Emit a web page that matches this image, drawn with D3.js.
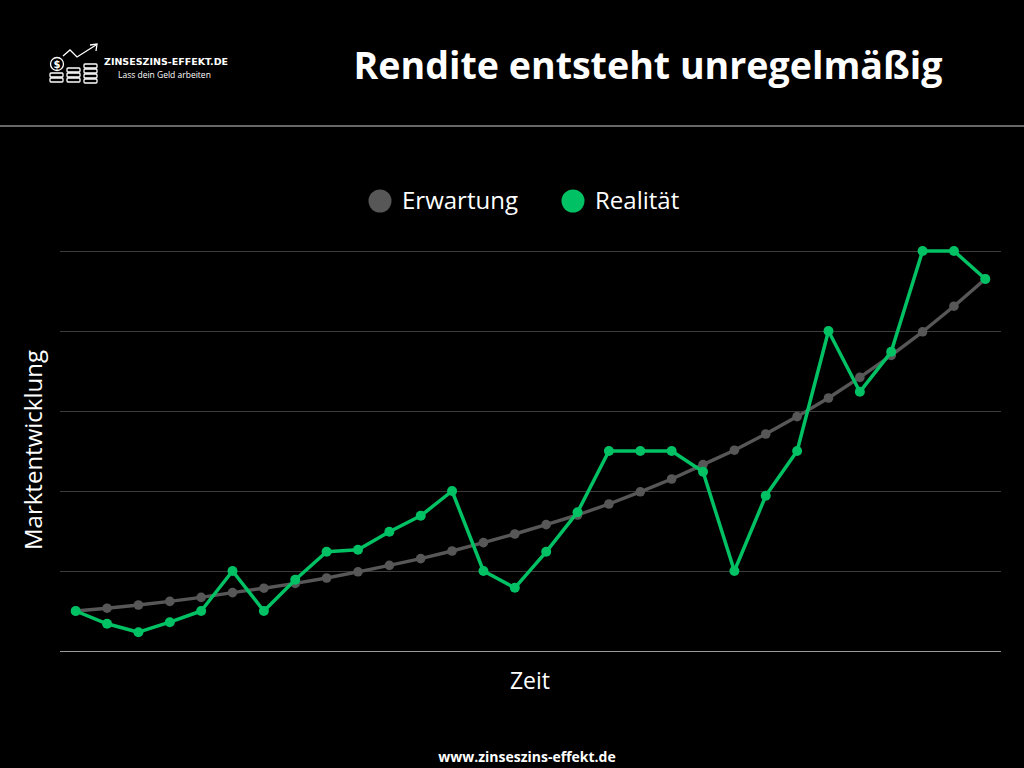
<!DOCTYPE html>
<html><head><meta charset="utf-8">
<script src="https://cdn.jsdelivr.net/npm/d3@7"></script>
<style>html,body{margin:0;padding:0;background:#000;}svg{display:block;}</style>
</head><body>
<svg id="c" width="1024" height="768"></svg>
<script>
const periods = d3.range(1, 31).map(String);
const erwartung = [10, 10.7, 11.5, 12.4, 13.4, 14.6, 15.7, 16.9, 18.25, 19.8, 21.4, 23.1, 25, 27.1, 29.25, 31.6, 34, 36.75, 39.8, 43, 46.6, 50.2, 54.25, 58.6, 63.25, 68.4, 73.9, 79.8, 86.2, 93];
const realitaet = [10, 6.8, 4.7, 7.2, 10, 20, 10, 17.8, 24.8, 25.3, 29.8, 33.8, 40, 20, 15.8, 24.8, 34.7, 50, 50, 50, 44.8, 20, 38.8, 50, 80, 64.8, 74.8, 100, 100, 93];
const yTicks = [0, 20, 40, 60, 80, 100];
const seriesNames = ["Erwartung", "Realität"];
const colors = ["#575757", "#00c163"];

const svg = d3.select("#c");
svg.append("rect").attr("width", 1024).attr("height", 768).attr("fill", "#000");

// Header
svg.append("text").attr("x", 648).attr("y", 79).attr("text-anchor", "middle")
  .attr("font-family", "Open Sans").attr("font-weight", 700).attr("font-size", 37.6)
  .attr("fill", "#fff").text("Rendite entsteht unregelmäßig");
svg.append("line").attr("x1", 0).attr("x2", 1024).attr("y1", 126).attr("y2", 126)
  .attr("stroke", "#cfcfcf").attr("stroke-width", 1);

// Logo
const logo = svg.append("g").attr("fill", "none").attr("stroke", "#fff").attr("stroke-width", 1.3);
logo.append("circle").attr("cx", 57).attr("cy", 64).attr("r", 6.5);
logo.append("text").attr("x", 57).attr("y", 68).attr("text-anchor", "middle").attr("stroke", "none")
  .attr("fill", "#fff").attr("font-family", "DejaVu Sans").attr("font-weight", 700).attr("font-size", 10).text("$");
[[50, 75], [50, 80], [67, 70], [67, 75], [67, 80], [84, 66], [84, 71], [84, 76], [84, 81]].forEach(([x, y]) => {
  logo.append("rect").attr("x", x).attr("y", y - 2).attr("width", 13).attr("height", 4).attr("rx", 1);
});
logo.append("polyline").attr("points", "63,56 70,50 77,57 96,45");
logo.append("polyline").attr("points", "90,45 97,44 96,51");
svg.append("text").attr("x", 104).attr("y", 65).attr("font-family", "DejaVu Sans").attr("font-weight", 700)
  .attr("font-size", 9.5).attr("fill", "#fff").text("ZINSESZINS-EFFEKT.DE");
svg.append("text").attr("x", 118).attr("y", 78).attr("font-family", "Open Sans")
  .attr("font-size", 8.5).attr("fill", "#fff").text("Lass dein Geld arbeiten");

// Scales
const x = d3.scalePoint().domain(periods).range([60, 1001]).padding(0.5);
const y = d3.scaleLinear().domain([0, 100]).range([651, 251]);

// Grid
const grid = svg.append("g").attr("transform", "translate(60,0)")
  .call(d3.axisLeft(y).tickValues(yTicks).tickSize(-941).tickFormat(""));
grid.select(".domain").remove();
grid.selectAll(".tick line").attr("stroke", d => d === 0 ? "#9a9a9a" : "#3c3c3c").attr("stroke-width", 1.2);

// Lines
const line = d3.line().x((d, i) => x(periods[i])).y(d => y(d));
[erwartung, realitaet].forEach((data, k) => {
  svg.append("path").datum(data).attr("d", line).attr("fill", "none")
    .attr("stroke", colors[k]).attr("stroke-width", k ? 3.5 : 3.4).attr("stroke-linejoin", "round");
  svg.append("g").selectAll("circle").data(data).join("circle")
    .attr("cx", (d, i) => x(periods[i])).attr("cy", d => y(d)).attr("r", k ? 5 : 4.8)
    .attr("fill", colors[k]);
});

// Legend
const leg = [{ cx: 380, tx: 402 }, { cx: 573, tx: 595 }];
seriesNames.forEach((n, k) => {
  svg.append("circle").attr("cx", leg[k].cx).attr("cy", 201).attr("r", 11.5).attr("fill", colors[k]);
  svg.append("text").attr("x", leg[k].tx).attr("y", 209).attr("font-family", "Open Sans")
    .attr("font-size", 24).attr("fill", "#fff").text(n);
});

// Axis titles
svg.append("text").attr("transform", "translate(42,450) rotate(-90)").attr("text-anchor", "middle")
  .attr("font-family", "Open Sans").attr("font-size", 24).attr("fill", "#fff").text("Marktentwicklung");
svg.append("text").attr("x", 530).attr("y", 689).attr("text-anchor", "middle")
  .attr("font-family", "Open Sans").attr("font-size", 23).attr("fill", "#fff").text("Zeit");

// Footer
svg.append("text").attr("x", 527).attr("y", 762).attr("text-anchor", "middle")
  .attr("font-family", "Open Sans").attr("font-weight", 700).attr("font-size", 14)
  .attr("fill", "#fff").text("www.zinseszins-effekt.de");
</script>
</body></html>
